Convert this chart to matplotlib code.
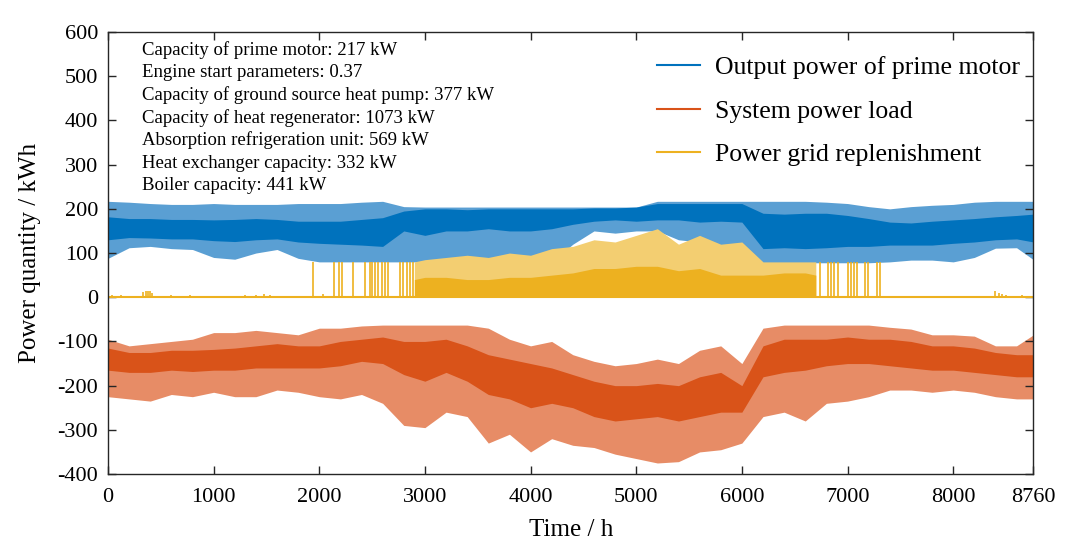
import matplotlib
matplotlib.use("Agg")
import matplotlib.pyplot as plt
from matplotlib.lines import Line2D
import numpy as np

plt.rcParams['font.family'] = ['Liberation Serif', 'DejaVu Serif']
plt.rcParams['axes.unicode_minus'] = False

hours = [0, 200, 400, 600, 800, 1000, 1200, 1400, 1600, 1800, 2000, 2200, 2400,
         2600, 2800, 3000, 3200, 3400, 3600, 3800, 4000, 4200, 4400, 4600, 4800,
         5000, 5200, 5400, 5600, 5800, 6000, 6200, 6400, 6600, 6800, 7000, 7200,
         7400, 7600, 7800, 8000, 8200, 8400, 8600, 8760]

# output power of prime motor: spike top, dense band top/bottom, spike bottom
motor_top = [217, 215, 212, 210, 210, 212, 210, 210, 210, 212, 212, 212, 215,
             217, 205, 204, 204, 204, 204, 204, 204, 204, 204, 204, 204, 204,
             217, 217, 217, 217, 217, 217, 217, 217, 215, 212, 205, 200, 205,
             208, 210, 215, 217, 217, 217]
motor_core_hi = [182, 178, 178, 176, 176, 175, 176, 178, 176, 172, 172, 172, 176,
                 180, 195, 200, 200, 198, 200, 200, 200, 200, 200, 202, 202, 204,
                 212, 212, 212, 212, 212, 190, 188, 190, 190, 185, 178, 170, 168,
                 172, 175, 178, 182, 185, 188]
motor_core_lo = [130, 135, 134, 132, 132, 128, 126, 130, 132, 125, 122, 120, 118,
                 115, 150, 140, 150, 150, 155, 150, 150, 155, 165, 172, 175, 172,
                 175, 175, 170, 172, 170, 110, 112, 110, 112, 115, 115, 118, 118,
                 118, 122, 125, 130, 132, 125]
motor_bot = [88, 112, 115, 110, 108, 90, 86, 100, 108, 88, 80, 80, 80, 80, 80, 80,
             80, 80, 80, 80, 80, 80, 120, 150, 145, 150, 150, 130, 125, 113, 120,
             78, 78, 78, 78, 78, 78, 80, 84, 84, 80, 90, 111, 112, 85]

# system power load (negative)
load_top = [-95, -110, -105, -100, -95, -80, -80, -75, -80, -85, -70, -70, -65,
            -63, -63, -63, -63, -63, -70, -95, -110, -100, -130, -145, -155, -150,
            -140, -150, -120, -110, -150, -70, -63, -63, -63, -63, -63, -68, -72,
            -85, -85, -88, -110, -110, -85]
load_core_hi = [-115, -125, -125, -120, -120, -118, -115, -110, -105, -110, -110,
                -100, -95, -90, -100, -100, -95, -110, -130, -140, -150, -160,
                -175, -190, -200, -200, -195, -200, -180, -170, -200, -110, -95,
                -95, -95, -90, -95, -95, -100, -110, -110, -115, -125, -130, -130]
load_core_lo = [-165, -170, -170, -165, -168, -165, -165, -160, -160, -160, -160,
                -155, -145, -150, -175, -190, -170, -190, -220, -230, -250, -240,
                -250, -270, -280, -275, -270, -280, -270, -260, -260, -180, -170,
                -165, -155, -150, -150, -155, -160, -165, -165, -170, -175, -180,
                -180]
load_bot = [-225, -230, -235, -220, -225, -215, -225, -225, -210, -215, -225,
            -230, -220, -240, -290, -295, -260, -270, -330, -310, -350, -320,
            -335, -340, -355, -365, -375, -372, -350, -345, -330, -270, -260,
            -280, -240, -235, -225, -210, -210, -215, -210, -215, -225, -230,
            -230]

# power grid replenishment, dense part
grid_hours = [2900, 3000, 3200, 3400, 3600, 3800, 4000, 4200, 4400, 4600, 4800,
              5000, 5200, 5400, 5600, 5800, 6000, 6200, 6400, 6600, 6700]
grid_top = [80, 85, 90, 95, 90, 100, 95, 110, 115, 130, 125, 140, 155, 120, 140,
            120, 125, 80, 80, 80, 80]
grid_core = [40, 45, 45, 40, 40, 45, 45, 50, 55, 65, 65, 70, 70, 60, 65, 50, 50,
             50, 55, 55, 50]
# power grid replenishment, isolated spikes
spike_hours = [40, 120, 330, 360, 380, 400, 420, 600, 780, 1270, 1300, 1400,
               1480, 1530, 1941, 2036, 2140, 2188, 2216, 2320, 2434, 2480, 2500,
               2528, 2560, 2590, 2623, 2652, 2765, 2790, 2831, 2860, 2890,
               6740, 6818, 6840, 6870, 6913, 7008, 7030, 7060, 7093, 7168, 7197,
               7282, 7305, 8400, 8430, 8460, 8500, 8600, 8650]
spike_vals = [5, 5, 12, 14, 15, 13, 10, 5, 6, 3, 4, 6, 7, 6, 80, 8, 80, 80, 80,
              80, 80, 80, 80, 80, 80, 80, 80, 80, 80, 80, 80, 80, 80,
              80, 80, 80, 80, 80, 80, 80, 80, 80, 80, 80, 80, 80, 15, 10, 8, 6,
              3, 5]

notes = ["Capacity of prime motor: 217 kW",
         "Engine start parameters: 0.37",
         "Capacity of ground source heat pump: 377 kW",
         "Capacity of heat regenerator: 1073 kW",
         "Absorption refrigeration unit: 569 kW",
         "Heat exchanger capacity: 332 kW",
         "Boiler capacity: 441 kW"]

blue = '#0072BD'
orange = '#D95319'
yellow = '#EDB120'
# lighter, opaque versions for the sparse spike parts
blue_l = '#5A9FD3'
orange_l = '#E78C66'
yellow_l = '#F3CE71'

fig = plt.figure(figsize=(10.85, 5.43), dpi=100)
ax = fig.add_axes([0.0995, 0.127, 0.853, 0.814])

# prime motor
ax.fill_between(hours, motor_bot, motor_top, color=blue_l, lw=0)
ax.fill_between(hours, motor_core_lo, motor_core_hi, color=blue, lw=0)
# load
ax.fill_between(hours, load_bot, load_top, color=orange_l, lw=0)
ax.fill_between(hours, load_core_lo, load_core_hi, color=orange, lw=0)
# grid
ax.fill_between(grid_hours, 0, grid_top, color=yellow_l, lw=0)
ax.fill_between(grid_hours, 0, grid_core, color=yellow, lw=0)
ax.vlines(spike_hours, 0, spike_vals, color=yellow, lw=1.2)
ax.plot([0, 8760], [0, 0], color=yellow, lw=1.5)

ax.set_xlim(0, 8760)
ax.set_ylim(-400, 600)
ax.set_xticks([0, 1000, 2000, 3000, 4000, 5000, 6000, 7000, 8000, 8760])
ax.set_yticks(np.arange(-400, 601, 100))
ax.tick_params(direction='in', top=True, right=True, length=6, width=1,
               labelsize=16, color='#262626', labelcolor='black')
ax.tick_params(axis='x', pad=10)
ax.tick_params(axis='y', pad=7)
for s in ax.spines.values():
    s.set_color('#262626')
    s.set_linewidth(1)
ax.set_xlabel('Time / h', fontsize=18, labelpad=9)
ax.set_ylabel('Power quantity / kWh', fontsize=18, labelpad=12)

for i, t in enumerate(notes):
    ax.text(0.037, 0.96 - i * 0.0513, t, transform=ax.transAxes,
            fontsize=13.5, va='center', ha='left')

handles = [Line2D([], [], color=c, lw=1.5) for c in (blue, orange, yellow)]
ax.legend(handles, ['Output power of prime motor', 'System power load',
                    'Power grid replenishment'],
          loc='upper right', bbox_to_anchor=(1.01, 0.998), frameon=False,
          fontsize=18.5, handlelength=1.7, handletextpad=0.55,
          labelspacing=0.8)

fig.savefig('out.png', dpi=100)
